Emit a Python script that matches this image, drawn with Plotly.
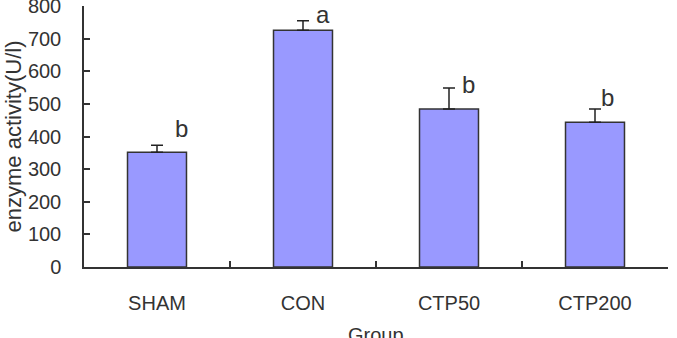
import plotly.graph_objects as go

groups = ["SHAM", "CON", "CTP50", "CTP200"]
means = [352, 726, 484, 444]
errors = [21, 29, 65, 40]
letters = ["b", "a", "b", "b"]
y_ticks = [0, 100, 200, 300, 400, 500, 600, 700, 800]

letter_xshift = [24, 20, 19, 12]
letter_yshift = [17, 6, 3, 12]

FONT = "Liberation Sans, Arial, sans-serif"
TXT = "#333333"

fig = go.Figure()
fig.add_trace(go.Bar(
    x=groups, y=means,
    marker=dict(color="#9999FF", line=dict(color="#333333", width=1.5)),
    error_y=dict(type="data", array=errors, arrayminus=[0] * len(errors), symmetric=False,
                 color="#222222", thickness=1.5, width=6),
    showlegend=False,
    cliponaxis=False,
))

for g, m, e, lt, xs, ys in zip(groups, means, errors, letters, letter_xshift, letter_yshift):
    fig.add_annotation(x=g, y=m + e, text=lt, showarrow=False, xanchor="center", yanchor="middle",
                       xshift=xs, yshift=ys, font=dict(family=FONT, size=24, color=TXT))

# x-axis title (placed like the reference, partly below the page edge)
fig.add_annotation(x=0.5, y=0, xref="paper", yref="paper", text="Group", showarrow=False,
                   xanchor="center", yanchor="top", yshift=-55,
                   font=dict(family=FONT, size=20, color=TXT))

fig.update_layout(
    width=677, height=338,
    margin=dict(l=84, r=9, t=6, b=71, autoexpand=False),
    paper_bgcolor="white", plot_bgcolor="white",
    bargap=0.596,
    font=dict(family=FONT, size=20, color=TXT),
)
fig.update_xaxes(
    automargin=False,
    showline=True, linecolor="#333333", linewidth=1.5,
    ticks="inside", tickson="boundaries", ticklen=6, tickcolor="#333333", tickwidth=1.5,
    ticklabelstandoff=17,
    showgrid=False, zeroline=False,
)
fig.update_yaxes(
    automargin=False,
    range=[0, 800], tickvals=y_ticks,
    showline=True, linecolor="#333333", linewidth=1.5,
    ticks="inside", ticklen=6, tickcolor="#333333", tickwidth=1.5,
    ticklabelstandoff=17, ticklabeloverflow="allow",
    title=dict(text="enzyme activity(U/l)", standoff=0, font=dict(size=22, color=TXT)),
    showgrid=False, zeroline=False,
)

fig.write_html("out.html")
